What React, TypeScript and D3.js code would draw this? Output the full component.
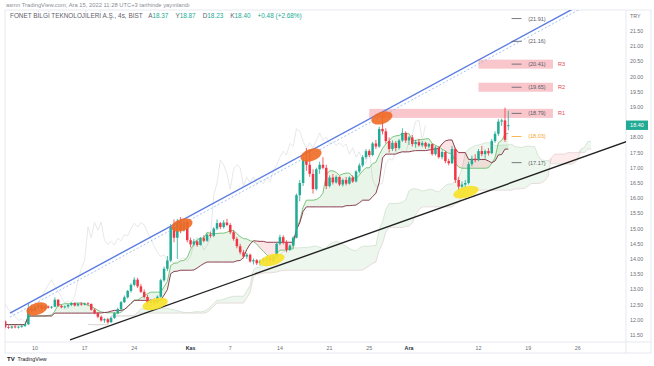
import React from 'react';
import * as d3 from 'd3';

const W = 654;
const H = 366;

// FONET 4s mumlar: [açılış, yüksek, düşük, kapanış]
const candles: number[][] = [
  [11.95, 11.98, 11.72, 11.76], [11.76, 11.82, 11.7, 11.74], [11.74, 11.8, 11.7, 11.78], [11.78, 11.82, 11.72, 11.75],
  [11.75, 11.8, 11.71, 11.77], [11.77, 11.84, 11.74, 11.8], [11.8, 11.88, 11.76, 11.85], [11.85, 12.55, 11.83, 12.38],
  [12.38, 12.5, 12.25, 12.3], [12.3, 12.46, 12.27, 12.42], [12.42, 12.52, 12.36, 12.47], [12.47, 12.5, 12.33, 12.36],
  [12.36, 12.48, 12.32, 12.44], [12.44, 12.47, 12.37, 12.4], [12.4, 12.46, 12.36, 12.43], [12.43, 12.74, 12.41, 12.66],
  [12.66, 12.68, 12.42, 12.46], [12.46, 12.5, 12.38, 12.41], [12.41, 12.47, 12.37, 12.44], [12.44, 12.52, 12.38, 12.49],
  [12.49, 12.58, 12.45, 12.55], [12.55, 12.57, 12.44, 12.47], [12.47, 12.56, 12.44, 12.53], [12.53, 12.58, 12.46, 12.5],
  [12.5, 12.57, 12.47, 12.54], [12.54, 12.58, 12.48, 12.52], [12.52, 12.54, 12.3, 12.33], [12.33, 12.38, 12.18, 12.22],
  [12.22, 12.26, 12.05, 12.1], [12.1, 12.14, 11.94, 11.98], [11.98, 12.05, 11.9, 12.02], [12.02, 12.06, 11.88, 11.92],
  [11.92, 12.1, 11.9, 12.06], [12.06, 12.25, 12.03, 12.22], [12.22, 12.4, 12.18, 12.35], [12.35, 12.62, 12.32, 12.58],
  [12.58, 12.8, 12.55, 12.74], [12.74, 12.98, 12.7, 12.95], [12.95, 13.2, 12.9, 13.15], [13.15, 13.4, 13.1, 13.32],
  [13.32, 13.38, 13.05, 13.1], [13.1, 13.18, 12.88, 12.92], [12.92, 13.0, 12.7, 12.75], [12.75, 12.82, 12.45, 12.55],
  [12.55, 12.68, 12.42, 12.62], [12.62, 12.7, 12.5, 12.56], [12.56, 12.8, 12.52, 12.76], [12.76, 13.35, 12.72, 13.3],
  [13.3, 13.75, 13.25, 13.68], [13.68, 14.1, 13.6, 13.95], [13.95, 15.15, 13.9, 15.05], [15.05, 15.3, 14.55, 14.7],
  [14.7, 15.32, 14.0, 15.2], [15.2, 15.38, 14.85, 14.95], [14.95, 15.3, 14.9, 15.22], [15.22, 15.28, 14.55, 14.62],
  [14.62, 14.7, 14.38, 14.48], [14.48, 14.66, 14.42, 14.58], [14.58, 14.62, 14.4, 14.46], [14.46, 14.72, 14.44, 14.68],
  [14.68, 14.78, 14.55, 14.6], [14.6, 14.85, 14.56, 14.8], [14.8, 14.9, 14.7, 14.76], [14.76, 15.05, 14.72, 15.0],
  [15.0, 15.3, 14.95, 15.18], [15.18, 15.22, 14.98, 15.05], [15.05, 15.28, 15.0, 15.2], [15.2, 15.32, 15.08, 15.12],
  [15.12, 15.18, 14.82, 14.88], [14.88, 14.95, 14.6, 14.66], [14.66, 14.72, 14.35, 14.42], [14.42, 14.5, 14.15, 14.22],
  [14.22, 14.3, 14.02, 14.08], [14.08, 14.2, 14.0, 14.14], [14.14, 14.18, 13.88, 13.92], [13.92, 14.02, 13.82, 13.96],
  [13.96, 14.0, 13.8, 13.86], [13.86, 13.98, 13.78, 13.94], [13.94, 14.04, 13.88, 14.0], [14.0, 14.08, 13.86, 14.04],
  [14.04, 14.1, 13.88, 13.94], [13.94, 14.12, 13.9, 14.08], [14.08, 14.55, 14.05, 14.5], [14.5, 14.8, 14.45, 14.72],
  [14.72, 14.78, 14.48, 14.55], [14.55, 14.62, 14.22, 14.3], [14.3, 14.48, 14.26, 14.44], [14.44, 14.75, 14.4, 14.7],
  [14.7, 16.15, 14.68, 16.1], [16.1, 16.6, 15.9, 16.5], [16.5, 17.35, 16.4, 17.25], [17.25, 17.65, 16.9, 17.1],
  [17.1, 17.55, 16.7, 16.8], [16.8, 16.95, 16.15, 16.3], [16.3, 17.0, 16.25, 16.95], [16.95, 17.2, 16.8, 17.1],
  [17.1, 17.35, 16.95, 17.0], [17.0, 17.1, 16.3, 16.4], [16.4, 16.75, 16.35, 16.68], [16.68, 16.8, 16.45, 16.52],
  [16.52, 16.75, 16.48, 16.7], [16.7, 16.72, 16.4, 16.45], [16.45, 16.65, 16.38, 16.6], [16.6, 16.7, 16.42, 16.48],
  [16.48, 16.72, 16.45, 16.68], [16.68, 16.75, 16.5, 16.55], [16.55, 16.92, 16.52, 16.88], [16.88, 17.15, 16.82, 17.08],
  [17.08, 17.42, 17.02, 17.35], [17.35, 17.62, 17.28, 17.55], [17.55, 17.6, 17.35, 17.42], [17.42, 17.85, 17.38, 17.8],
  [17.8, 17.92, 17.62, 17.7], [17.7, 18.35, 17.66, 18.28], [18.28, 18.75, 18.1, 18.2], [18.2, 18.3, 17.8, 17.88],
  [17.88, 18.0, 17.5, 17.62], [17.62, 17.9, 17.55, 17.82], [17.82, 17.88, 17.55, 17.65], [17.65, 17.95, 17.6, 17.9],
  [17.9, 18.3, 17.85, 18.15], [18.15, 18.2, 17.82, 17.9], [17.9, 18.05, 17.75, 18.0], [18.0, 18.08, 17.7, 17.78],
  [17.78, 17.92, 17.66, 17.85], [17.85, 17.95, 17.7, 17.74], [17.74, 17.88, 17.68, 17.82], [17.82, 17.86, 17.62, 17.7],
  [17.7, 17.82, 17.64, 17.78], [17.78, 17.8, 17.4, 17.45], [17.45, 17.72, 17.4, 17.66], [17.66, 17.7, 17.3, 17.35],
  [17.35, 17.6, 17.28, 17.52], [17.52, 17.56, 17.15, 17.22], [17.22, 17.3, 17.08, 17.15], [17.15, 17.72, 17.12, 17.62],
  [17.62, 17.66, 16.5, 16.6], [16.6, 16.7, 16.25, 16.38], [16.38, 16.55, 16.28, 16.45], [16.45, 16.6, 16.35, 16.5],
  [16.5, 17.2, 16.45, 17.12], [17.12, 17.4, 17.05, 17.3], [17.3, 17.45, 17.18, 17.25], [17.25, 17.62, 17.22, 17.55],
  [17.55, 17.72, 17.38, 17.45], [17.45, 17.6, 17.3, 17.55], [17.55, 17.65, 17.4, 17.48], [17.48, 17.95, 17.45, 17.88],
  [17.88, 18.2, 17.82, 18.12], [18.12, 18.6, 18.05, 18.52], [18.52, 18.62, 18.38, 18.56], [18.56, 18.98, 17.85, 17.92],
  [18.37, 18.87, 18.23, 18.4],
];

const priceTicks = [11.5, 12, 12.5, 13, 13.5, 14, 14.5, 15, 15.5, 16, 16.5, 17, 17.5, 18, 18.5, 19, 19.5, 20, 20.5, 21, 21.5];
const dateBars = [9, 24, 39, 56, 68, 83, 98, 110, 122, 143, 158, 173];
const dateLabels = ['10', '17', '24', 'Kas', '7', '14', '21', '25', 'Ara', '12', '19', '26'];
const monthLabels = ['Kas', 'Ara'];

// pivot seviyeleri
const pivotValues = [21.91, 21.16, 20.41, 19.65, 18.79, 18.03, 17.17];
const pivotMid = 18.03;
const resNames = ['R1', 'R2', 'R3'];
const resPrices = [18.79, 19.65, 20.41];
const resFromBar = [110, 143, 143];

// çizimler (bar, fiyat)
const upperLine = [[1.45, 12.22], [113.8, 18.83]];
const lowerLine = [[19.6, 11.34], [179.7, 17.55]];
const topMarks = [[9.6, 12.36], [53.4, 15.12], [92.4, 17.42], [113.8, 18.64]];
const bottomMarks = [[45.3, 12.52], [80.6, 13.97], [139.2, 16.2]];

const font = "'Liberation Sans', Arial, sans-serif";
const UP = '#22ab94';
const DOWN = '#f23645';

export default function App() {
  const left = 5, top = 10, right = 626, bottom = 342;
  const x = d3.scaleLinear().domain([0, 152]).range([5.2, 508.3]);
  const y = d3.scaleLinear().domain([11.5, 21.5]).range([335, 31]);

  const highs = candles.map(d => d[1]);
  const lows = candles.map(d => d[2]);
  const closes = candles.map(d => d[3]);
  const mid = (i: number, n: number) => {
    const s = Math.max(0, i - n + 1);
    return ((d3.max(highs.slice(s, i + 1)) as number) + (d3.min(lows.slice(s, i + 1)) as number)) / 2;
  };
  const tenkan = candles.map((_, i) => mid(i, 9));
  const kijun = candles.map((_, i) => mid(i, 26));
  const lead = candles.map((_, i) => ({ bar: i + 25, a: (tenkan[i] + kijun[i]) / 2, b: mid(i, 52) }));
  const tk = candles.map((_, i) => ({ bar: i, a: tenkan[i], b: kijun[i] }));
  const lag = closes.map((c, i) => ({ bar: i - 25, v: c }));

  type P = { bar: number; a: number; b: number };
  const upArea = d3.area<P>().x(d => x(d.bar)).y0(d => y(d.b)).y1(d => y(Math.max(d.a, d.b)));
  const dnArea = d3.area<P>().x(d => x(d.bar)).y0(d => y(d.a)).y1(d => y(Math.max(d.a, d.b)));
  const lineA = d3.line<P>().x(d => x(d.bar)).y(d => y(d.a));
  const lineB = d3.line<P>().x(d => x(d.bar)).y(d => y(d.b));
  const lagLine = d3.line<{ bar: number; v: number }>().x(d => x(d.bar)).y(d => y(d.v));

  const extend = (pts: number[][], toBar: number) => {
    const [[b1, p1], [b2, p2]] = pts;
    const k = (p2 - p1) / (b2 - b1);
    return { x1: x(b1), y1: y(p1), x2: x(toBar), y2: y(p1 + k * (toBar - b1)) };
  };
  const blue = extend(upperLine, 200);
  const black = extend(lowerLine, 200);

  const last = candles[candles.length - 1];
  const prev = candles[candles.length - 2];
  const chg = last[3] - prev[3];
  const pct = (chg / prev[3]) * 100;

  return (
    <svg width={W} height={H} style={{ position: 'absolute', left: 0, top: 0, background: '#fff' }} fontFamily={font}>
      <defs>
        <clipPath id="plot">
          <rect x={left} y={top} width={right - left} height={bottom - top} />
        </clipPath>
      </defs>
      <rect width={W} height={H} fill="#fff" />
      <text x={6} y={6.5} fontSize={5.8} fill="#8a8d96">asmn TradingView.com, Ara 15, 2022 11:28 UTC+3 tarihinde yayınlandı</text>
      <rect x={left} y={top} width={651 - left} height={353 - top} fill="none" stroke="#e0e3eb" strokeWidth={0.8} />
      <line x1={right} x2={right} y1={top} y2={353} stroke="#e0e3eb" strokeWidth={0.8} />
      <line x1={left} x2={651} y1={bottom} y2={bottom} stroke="#e0e3eb" strokeWidth={0.8} />

      <g clipPath="url(#plot)">
        {/* bulut */}
        <path d={upArea(lead) || ''} fill="rgba(76,175,80,0.1)" />
        <path d={dnArea(lead) || ''} fill="rgba(242,54,69,0.1)" />
        <path d={lineA(lead) || ''} fill="none" stroke="#cddccd" strokeWidth={0.7} />
        <path d={lineB(lead) || ''} fill="none" stroke="#e0cfd1" strokeWidth={0.7} />
        <path d={lagLine(lag) || ''} fill="none" stroke="#dcdee2" strokeWidth={0.7} />
        <path d={upArea(tk) || ''} fill="rgba(76,175,80,0.13)" />
        <path d={dnArea(tk) || ''} fill="rgba(242,54,69,0.13)" />

        {resPrices.map((p, i) => (
          <rect key={resNames[i]} x={x(resFromBar[i])} width={x(165.5) - x(resFromBar[i])} y={y(p) - 4.5} height={9} fill="#f8bcc2" opacity={0.85} />
        ))}

        <path d={lineA(tk) || ''} fill="none" stroke="#6cc070" strokeWidth={0.9} />
        <path d={lineB(tk) || ''} fill="none" stroke="#7f2a3f" strokeWidth={0.9} />

        {candles.map((d, i) => {
          const [o, h, l, c] = d;
          const col = c >= o ? UP : DOWN;
          const yt = y(Math.max(o, c));
          return (
            <g key={i}>
              <line x1={x(i)} x2={x(i)} y1={y(h)} y2={y(l)} stroke={col} strokeWidth={0.8} />
              <rect x={x(i) - 1.25} width={2.5} y={yt} height={Math.max(0.8, y(Math.min(o, c)) - yt)} fill={col} />
            </g>
          );
        })}

        <line {...blue} stroke="#5a7ce2" strokeWidth={1.4} />
        <line x1={blue.x1} y1={blue.y1 + 4} x2={blue.x2} y2={blue.y2 + 4} stroke="#8fb3ee" strokeWidth={0.8} strokeDasharray="2 2" />
        <line {...black} stroke="#222" strokeWidth={1.4} />

        {topMarks.map(([b, p], i) => (
          <ellipse key={'o' + i} cx={x(b)} cy={y(p)} rx={11} ry={6} transform={`rotate(-18 ${x(b)} ${y(p)})`} fill="#f06a24" opacity={0.9} />
        ))}
        {bottomMarks.map(([b, p], i) => (
          <ellipse key={'y' + i} cx={x(b)} cy={y(p)} rx={13} ry={5.5} transform={`rotate(-15 ${x(b)} ${y(p)})`} fill="#f7e22a" opacity={0.92} />
        ))}

        {pivotValues.map(p => {
          const col = p === pivotMid ? '#f5a623' : '#555a66';
          return (
            <g key={p}>
              <line x1={x(153)} x2={x(156)} y1={y(p)} y2={y(p)} stroke={col} strokeWidth={0.8} />
              <text x={x(158)} y={y(p) + 2} fontSize={5.5} fill={col}>({p.toFixed(2)})</text>
            </g>
          );
        })}
        {resPrices.map((p, i) => (
          <text key={'t' + i} x={x(167)} y={y(p) + 2} fontSize={5.5} fill="#e5464f">{resNames[i]}</text>
        ))}
      </g>

      <text x={10} y={18} fontSize={6.4} fill="#5d606b">
        FONET BİLGİ TEKNOLOJİLERİ A.Ş., 4s, BIST
        <tspan dx={6} fill="#5d606b">A</tspan><tspan fill={UP}>{last[0].toFixed(2)}</tspan>
        <tspan dx={7} fill="#5d606b">Y</tspan><tspan fill={UP}>{last[1].toFixed(2)}</tspan>
        <tspan dx={7} fill="#5d606b">D</tspan><tspan fill={UP}>{last[2].toFixed(2)}</tspan>
        <tspan dx={7} fill="#5d606b">K</tspan><tspan fill={UP}>{last[3].toFixed(2)}</tspan>
        <tspan dx={7} fill={UP}>+{chg.toFixed(2)} (+{pct.toFixed(2)}%)</tspan>
      </text>

      <text x={630} y={17.5} fontSize={5.3} fill="#6b6e78">TRY</text>
      {priceTicks.filter(p => Math.abs(p - last[3]) > 0.25).map(p => (
        <text key={p} x={630} y={y(p) + 2} fontSize={5.3} fill="#6b6e78">{p.toFixed(2)}</text>
      ))}
      <rect x={right} y={y(last[3]) - 4.7} width={22} height={9.4} fill={UP} />
      <text x={right + 11} y={y(last[3]) + 2} fontSize={5.5} fill="#fff" textAnchor="middle">{last[3].toFixed(2)}</text>

      {dateBars.map((b, i) => (
        <text key={b} x={x(b)} y={349.5} fontSize={5.3} textAnchor="middle"
          fill={monthLabels.includes(dateLabels[i]) ? '#2a2e39' : '#6b6e78'}
          fontWeight={monthLabels.includes(dateLabels[i]) ? 'bold' : 'normal'}>{dateLabels[i]}</text>
      ))}

      <text x={7} y={361} fontSize={6} fontWeight="bold" fill="#131722">TV</text>
      <text x={17.5} y={361} fontSize={5.3} fill="#131722">TradingView</text>
    </svg>
  );
}
